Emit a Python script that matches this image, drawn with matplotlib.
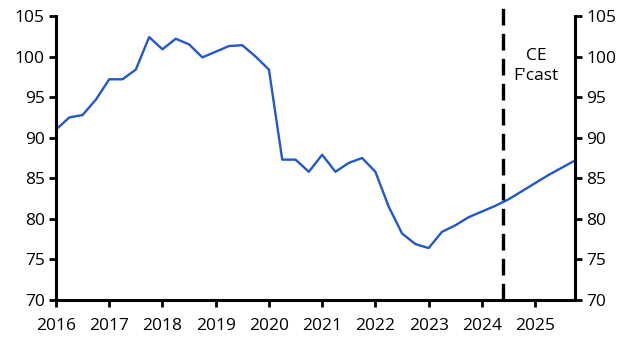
import numpy as np
import matplotlib
matplotlib.use("Agg")
import matplotlib.pyplot as plt

# quarterly index, 2016Q1 .. 2025Q4 (forecast from mid-2024)
start_year = 2016
values = [
    91.0, 92.5, 92.8, 94.7,
    97.2, 97.2, 98.4, 102.4,
    100.9, 102.2, 101.5, 99.9,
    100.6, 101.3, 101.4, 100.0,
    98.4, 87.3, 87.3, 85.8,
    87.9, 85.8, 86.9, 87.5,
    85.8, 81.5, 78.2, 76.9,
    76.4, 78.4, 79.2, 80.2,
    80.9, 81.6, 82.4, 83.4,
    84.4, 85.4, 86.3, 87.2,
]
forecast_start = 2024.4
year_ticks = list(range(2016, 2026))
y_ticks = [70, 75, 80, 85, 90, 95, 100, 105]

plt.rcParams['font.family'] = ['Open Sans', 'DejaVu Sans']
plt.rcParams['font.size'] = 12.5

dates = start_year + np.arange(len(values)) / 4.0

fig = plt.figure(figsize=(6.34, 3.45), dpi=100)
ax = fig.add_axes([0.0883, 0.1304, 0.8187, 0.8232])

ax.plot(dates, values, color='#2257d0', linewidth=1.7)

# forecast marker
ax.axvline(forecast_start, ymin=0, ymax=1.042, color='black', linestyle=(0, (5, 2.5)),
           linewidth=2.4, clip_on=False)
ax.text(forecast_start + 0.62, 98.8, "CE\nF'cast", ha='center', va='center',
        fontsize=12.5, linespacing=1.35)

ax.set_xlim(dates[0], dates[-1])
ax.set_ylim(70, 105)
ax.set_xticks(year_ticks)
ax.set_yticks(y_ticks)

ax.spines['top'].set_visible(False)
for side in ['left', 'right', 'bottom']:
    ax.spines[side].set_linewidth(2.2)

ax.tick_params(axis='both', direction='out', length=5, width=2, colors='black',
               labelsize=12.5)
ax.tick_params(axis='y', right=True, labelright=True, pad=3)
ax.tick_params(axis='x', pad=8)

fig.savefig('out.png', dpi=100)
